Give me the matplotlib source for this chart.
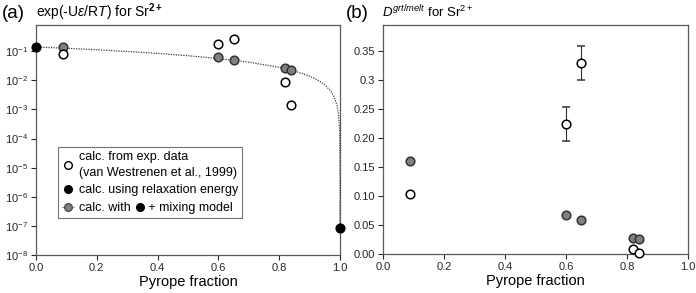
import numpy as np
import matplotlib
matplotlib.use("Agg")
import matplotlib.pyplot as plt
from matplotlib.lines import Line2D

plt.rcParams["font.family"] = ["Liberation Sans", "DejaVu Sans"]
plt.rcParams["mathtext.fontset"] = "custom"
plt.rcParams["mathtext.rm"] = "Liberation Sans"
plt.rcParams["mathtext.it"] = "Liberation Sans:italic"
plt.rcParams["mathtext.bf"] = "Liberation Sans:bold"

# ---- panel (a): exp(-U eps / RT) ----
exp_x   = [0.09, 0.60, 0.65, 0.82, 0.84]
exp_y   = [0.083, 0.18, 0.27, 0.0087, 0.0014]
exp_err = [0.0, 0.0, 0.0, 0.0015, 0.0]

relax_x = [0.0, 1.0]
relax_y = [0.14, 8.8e-8]

mix_x = [0.09, 0.60, 0.65, 0.82, 0.84]
mix_y = [0.14, 0.061, 0.050, 0.027, 0.023]

# mixing-model curve
curve_x = [0.0, 0.1, 0.2, 0.3, 0.4, 0.5, 0.6, 0.7, 0.8, 0.85, 0.9, 0.93,
           0.95, 0.97, 0.98, 0.99, 0.995, 0.998, 0.999, 0.9999, 0.99999, 1.0]
curve_y = [0.14, 0.126, 0.112, 0.098, 0.084, 0.070, 0.056, 0.042, 0.028,
           0.021, 0.014, 0.0098, 0.007, 0.0042, 0.0028, 0.0014, 7e-4,
           2.8e-4, 1.4e-4, 1.4e-5, 1.5e-6, 8.8e-8]

# ---- panel (b): D grt/melt ----
dexp_x   = [0.09, 0.60, 0.65, 0.82, 0.84]
dexp_y   = [0.104, 0.224, 0.329, 0.008, 0.002]
dexp_lo  = [0.0, 0.029, 0.029, 0.0, 0.0]
dexp_hi  = [0.0, 0.030, 0.030, 0.0, 0.0]

dmix_x = [0.09, 0.60, 0.65, 0.82, 0.84]
dmix_y = [0.161, 0.067, 0.058, 0.027, 0.026]

W, H = 696, 293
fig = plt.figure(figsize=(W / 100, H / 100), dpi=100)
axA = fig.add_axes([36 / W, (H - 255) / H, 304 / W, 230 / H])
axB = fig.add_axes([383 / W, (H - 254) / H, 305 / W, 229 / H])

GRAY = "#808080"
ms = 6.2
mew = 1.1

for ax in (axA, axB):
    for s in ax.spines.values():
        s.set_color("0.35")
        s.set_linewidth(0.9)
    ax.tick_params(direction="out", length=3.5, width=0.8, labelsize=8,
                   colors="0.15", top=False, right=False, pad=2)
    ax.set_xlim(0, 1)
    ax.set_xticks([0, 0.2, 0.4, 0.6, 0.8, 1.0])
    ax.set_xticklabels(["0.0", "0.2", "0.4", "0.6", "0.8", "1.0"])
    ax.set_xlabel("Pyrope fraction", fontsize=10.5, labelpad=2)

# panel (a)
axA.set_yscale("log")
axA.set_ylim(1e-8, 10 ** -0.1)
axA.set_yticks([10.0 ** -k for k in range(1, 9)])
axA.minorticks_off()
axA.plot(curve_x, curve_y, ls=(0, (1, 1)), color="0.25", lw=0.9, zorder=1)
axA.errorbar(exp_x, exp_y, yerr=exp_err, fmt="o", ms=ms, mfc="white",
             mec="black", mew=mew, ecolor="black", elinewidth=0.8,
             capsize=0, zorder=3)
axA.plot(mix_x, mix_y, "o", ms=ms, mfc=GRAY, mec="0.2", mew=mew, zorder=3)
axA.plot(relax_x, relax_y, "o", ms=ms, mfc="black", mec="black", mew=mew,
         zorder=4, clip_on=False)

handles = [
    Line2D([], [], ls="none", marker="o", ms=5.5, mfc="white", mec="black", mew=1),
    Line2D([], [], ls="none", marker="o", ms=5.5, mfc="black", mec="black", mew=1),
    Line2D([], [], ls=(0, (1, 1)), color="0.3", lw=0.8, marker="o", ms=5.5,
           mfc=GRAY, mec="0.3", mew=1),
]
labels = [
    "calc. from exp. data\n(van Westrenen et al., 1999)",
    "calc. using relaxation energy",
    "calc. with     + mixing model",
]
leg = axA.legend(handles, labels, loc="upper left", bbox_to_anchor=(0.072, 0.47),
                 fontsize=9, frameon=True, fancybox=False, edgecolor="0.3",
                 handlelength=1.0, handletextpad=0.4, borderpad=0.3,
                 labelspacing=0.45, borderaxespad=0)
leg.get_frame().set_linewidth(0.8)
leg.get_texts()[0].set_linespacing(1.45)

# panel (b)
axB.set_ylim(0, 0.395)
bt = [0.0, 0.05, 0.10, 0.15, 0.20, 0.25, 0.30, 0.35]
axB.set_yticks(bt)
axB.set_yticklabels(["0.00", "0.05", "0.10", "0.15", "0.20", "0.25", "0.3", "0.35"])
axB.errorbar(dexp_x, dexp_y, yerr=[dexp_lo, dexp_hi], fmt="o", ms=ms,
             mfc="white", mec="black", mew=mew, ecolor="0.2", elinewidth=0.8,
             capsize=3, capthick=0.8, zorder=3, clip_on=False)
axB.plot(dmix_x, dmix_y, "o", ms=ms, mfc=GRAY, mec="0.2", mew=mew, zorder=3)

# titles
fig.text(2 / W, 1 - 13 / H, "(a)", fontsize=13.5, va="center", ha="left")
fig.text(36 / W, 1 - 12 / H, r"exp(-U$\varepsilon$/R$T$) for Sr$^{\mathbf{2+}}$",
         fontsize=10, va="center", ha="left")
fig.text(346 / W, 1 - 13 / H, "(b)", fontsize=13.5, va="center", ha="left")
fig.text(382 / W, 1 - 12 / H, r"$D^{grt/melt}$ for Sr$^{2+}$",
         fontsize=9.5, va="center", ha="left")

# black dot inside the last legend label
fig.canvas.draw()
r = fig.canvas.get_renderer()
lab = leg.get_texts()[2]
bb = lab.get_window_extent(r)
def _w(s):
    t = fig.text(0, 0, s, fontsize=9)
    w = t.get_window_extent(r).width
    t.remove()
    return w
xa = bb.x0 + _w("calc. with")
xb = bb.x0 + _w("calc. with     +") - _w("+")
yc = bb.y0 + bb.height * 0.56
fig.add_artist(Line2D([(xa + xb) / 2 / fig.bbox.width], [yc / fig.bbox.height],
                      transform=fig.transFigure, ls="none", marker="o",
                      ms=5.5, mfc="black", mec="black", zorder=10))

fig.savefig("out.png", dpi=100)
